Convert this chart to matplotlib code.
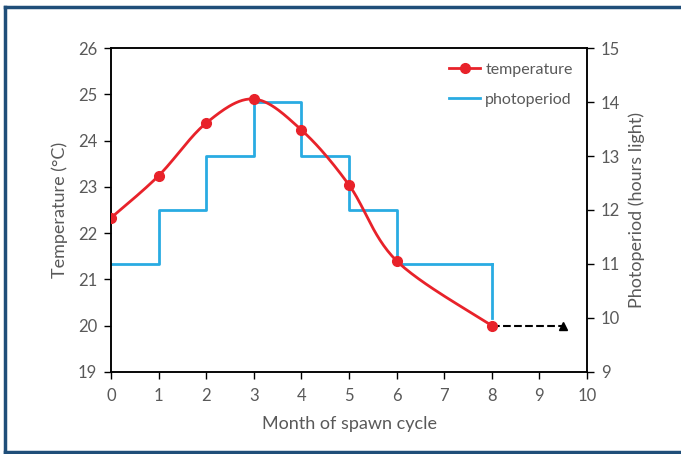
import numpy as np
import matplotlib
matplotlib.use("Agg")
import matplotlib.pyplot as plt
from matplotlib.lines import Line2D

months_temp = [0, 1, 2, 3, 4, 5, 6, 8]
temperature = [22.33, 23.24, 24.38, 24.9, 24.23, 23.04, 21.4, 20.0]

months_photo = [0, 1, 2, 3, 4, 5, 6, 8]
photoperiod = [11, 12, 13, 14, 13, 12, 11, 10]

arrow_months = [8, 9.5]
arrow_temp = [20.0, 20.0]

plt.rcParams['font.family'] = ['Lato', 'DejaVu Sans']
grey = '#595959'

def excel_smooth(x, y, n=30):
    x = np.asarray(x, float); y = np.asarray(y, float)
    xs, ys = [], []
    for i in range(len(x) - 1):
        p0 = np.array([x[max(i-1, 0)], y[max(i-1, 0)]])
        p1 = np.array([x[i], y[i]])
        p2 = np.array([x[i+1], y[i+1]])
        p3 = np.array([x[min(i+2, len(x)-1)], y[min(i+2, len(x)-1)]])
        c1 = p1 + (p2 - p0) / 6
        c2 = p2 - (p3 - p1) / 6
        t = np.linspace(0, 1, n)[:, None]
        b = (1-t)**3*p1 + 3*(1-t)**2*t*c1 + 3*(1-t)*t**2*c2 + t**3*p2
        xs.extend(b[:, 0]); ys.extend(b[:, 1])
    return np.array(xs), np.array(ys)

fig = plt.figure(figsize=(6.81, 4.54), dpi=100)
ax = fig.add_axes([0.163, 0.181, 0.699, 0.713])
ax2 = ax.twinx()

# photoperiod steps
ax2.step(months_photo[:-1] + [months_photo[-1]], photoperiod[:-1] + [photoperiod[-2]],
         where='post', color='#29ABE2', lw=2, zorder=2)
ax2.plot([months_photo[-1], months_photo[-1]], [photoperiod[-2], photoperiod[-1]],
         color='#29ABE2', lw=2, zorder=2)
ax2.set_ylim(9, 15)

sx, sy = excel_smooth(months_temp, temperature)
ax.set_zorder(ax2.get_zorder() + 1)
ax.patch.set_visible(False)
ax.plot(sx, sy, color='#E8222A', lw=2, zorder=3)
ax.plot(months_temp, temperature, 'o', color='#E8222A', ms=7, zorder=4)
ax.plot(arrow_months, arrow_temp, '--', color='black', lw=1.5, zorder=3)
ax.plot([arrow_months[-1]], [arrow_temp[-1]], '^', color='black', ms=6, zorder=4)

ax.set_xlim(0, 10)
ax.set_ylim(19, 26)
ax.set_xticks(range(0, 11))
ax.set_yticks(range(19, 27))
ax2.set_yticks(range(9, 16))

for a in (ax, ax2):
    for s in a.spines.values():
        s.set_color('black'); s.set_linewidth(1.1)
    a.tick_params(colors=grey, labelsize=12, length=5, width=1, direction='out', pad=5)
    a.tick_params(axis='both', color='black')
ax.tick_params(axis='x', pad=7)

ax.set_xlabel('Month of spawn cycle', color=grey, fontsize=13, labelpad=8)
ax.set_ylabel('Temperature (°C)', color=grey, fontsize=13, labelpad=7)
ax2.set_ylabel('Photoperiod (hours light)', color=grey, fontsize=13, labelpad=6)

handles = [Line2D([], [], color='#E8222A', lw=2, marker='o', ms=7),
           Line2D([], [], color='#29ABE2', lw=2)]
leg = ax.legend(handles, ['temperature', 'photoperiod'], loc='upper right',
                bbox_to_anchor=(1.0, 1.0), frameon=False, fontsize=11.5,
                handlelength=2.0, handletextpad=0.3, labelspacing=1.0)
for t in leg.get_texts():
    t.set_color(grey)

# frame border
fig.add_artist(plt.Line2D([0.008, 0.008], [0.004, 0.985], color='#1F4E79', lw=2.5, transform=fig.transFigure))
fig.add_artist(plt.Line2D([0.008, 1.0], [0.985, 0.985], color='#1F4E79', lw=2.5, transform=fig.transFigure))
fig.add_artist(plt.Line2D([0.008, 1.0], [0.004, 0.004], color='#1F4E79', lw=2.5, transform=fig.transFigure))

fig.savefig('out.png', dpi=100)
